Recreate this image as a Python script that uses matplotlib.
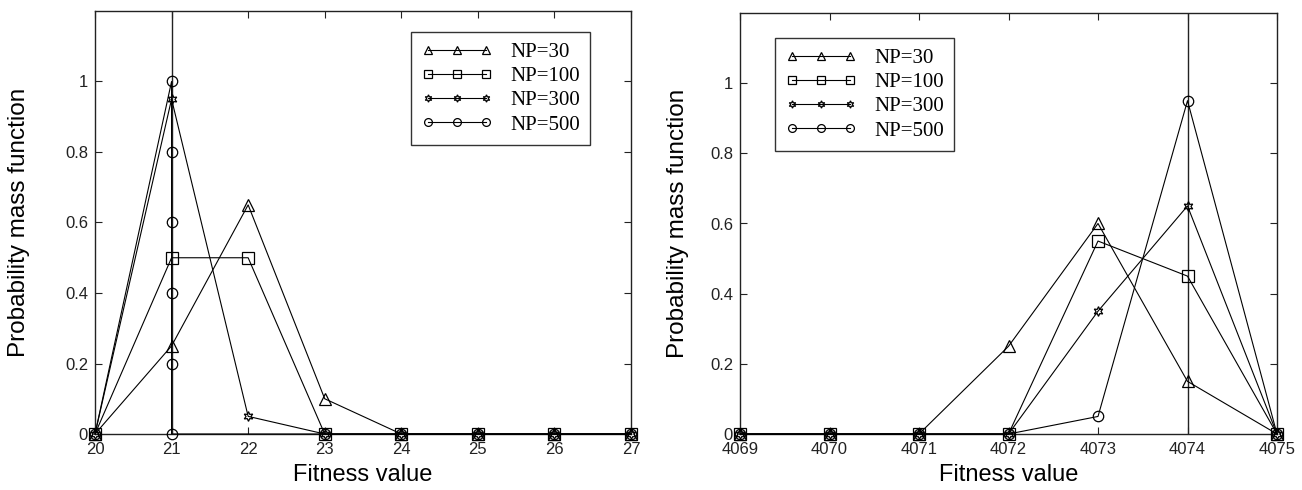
import matplotlib
matplotlib.use("Agg")
import matplotlib.pyplot as plt

plt.rcParams['font.family'] = ['Liberation Sans', 'DejaVu Sans']

# Left panel data
left_x = [20, 21, 22, 23, 24, 25, 26, 27]
left_np30 = [0, 0.25, 0.65, 0.10, 0, 0, 0, 0]
left_np100 = [0, 0.50, 0.50, 0, 0, 0, 0, 0]
left_np300 = [0, 0.95, 0.05, 0, 0, 0, 0, 0]
left_np500_x = [20, 21, 21, 21, 21, 21, 21, 23, 24, 25, 26, 27]
left_np500 = [0, 1.0, 0.8, 0.6, 0.4, 0.2, 0, 0, 0, 0, 0, 0]
left_opt = 21

# Right panel data
right_x = [4069, 4070, 4071, 4072, 4073, 4074, 4075]
right_np30 = [0, 0, 0, 0.25, 0.60, 0.15, 0]
right_np100 = [0, 0, 0, 0, 0.55, 0.45, 0]
right_np300 = [0, 0, 0, 0, 0.35, 0.65, 0]
right_np500 = [0, 0, 0, 0, 0.05, 0.95, 0]
right_opt = 4074

labels = ['NP=30', 'NP=100', 'NP=300', 'NP=500']
yticks = [0, 0.2, 0.4, 0.6, 0.8, 1.0]
ytick_labels = ['0', '0.2', '0.4', '0.6', '0.8', '1']

markers = ['^', 's', (6, 1, 0), 'o']
msizes = [8.5, 8, 7, 7.5]

W, H = 1302, 490
fig = plt.figure(figsize=(W / 100, H / 100), dpi=100)
axL = fig.add_axes([95/W, 1-434/H, (631-95)/W, (434-11)/H])
axR = fig.add_axes([740/W, 1-434/H, (1277-740)/W, (434-13)/H])


def draw(ax, xs_list, ys_list, xticks, opt, leg_xy, ylabelpad):
    ax.axvline(opt, color='#222222', lw=1.0, zorder=1)
    handles = []
    for xs, ys, m, ms, lab in zip(xs_list, ys_list, markers, msizes, labels):
        h, = ax.plot(xs, ys, color='black', lw=0.8, marker=m, markersize=ms,
                     markerfacecolor='none', markeredgecolor='black',
                     markeredgewidth=0.9, clip_on=False, label=lab, zorder=3)
        handles.append(h)
    ax.set_xlim(xticks[0], xticks[-1])
    ax.set_ylim(0, 1.2)
    ax.set_xticks(xticks)
    ax.set_xticklabels([str(t) for t in xticks])
    ax.set_yticks(yticks)
    ax.set_yticklabels(ytick_labels)
    ax.tick_params(direction='in', length=5, width=0.8, top=True, right=True,
                   labelsize=12, colors='#222222')
    ax.tick_params(axis='x', pad=6)
    ax.tick_params(axis='y', pad=5)
    for s in ax.spines.values():
        s.set_linewidth(1.0)
        s.set_color('#222222')
    ax.set_xlabel('Fitness value', fontsize=17, labelpad=5)
    ax.set_ylabel('Probability mass function', fontsize=17.5, labelpad=ylabelpad)
    leg = ax.legend(handles=handles, loc='upper left',
                    bbox_to_anchor=(leg_xy[0] / W, 1 - leg_xy[1] / H),
                    bbox_transform=fig.transFigure, borderaxespad=0,
                    numpoints=3, handlelength=3.4, markerscale=0.75,
                    frameon=True, fancybox=False, edgecolor='black',
                    prop={'family': 'Liberation Serif', 'size': 15},
                    borderpad=0.5, labelspacing=0.22, handletextpad=0.85)
    leg.get_frame().set_linewidth(1.0)
    return leg


draw(axL, [left_x, left_x, left_x, left_np500_x],
     [left_np30, left_np100, left_np300, left_np500],
     left_x, left_opt, (411, 32), 25)

draw(axR, [right_x] * 4,
     [right_np30, right_np100, right_np300, right_np500],
     right_x, right_opt, (775, 38), 15)

fig.savefig('out.png', dpi=100)
